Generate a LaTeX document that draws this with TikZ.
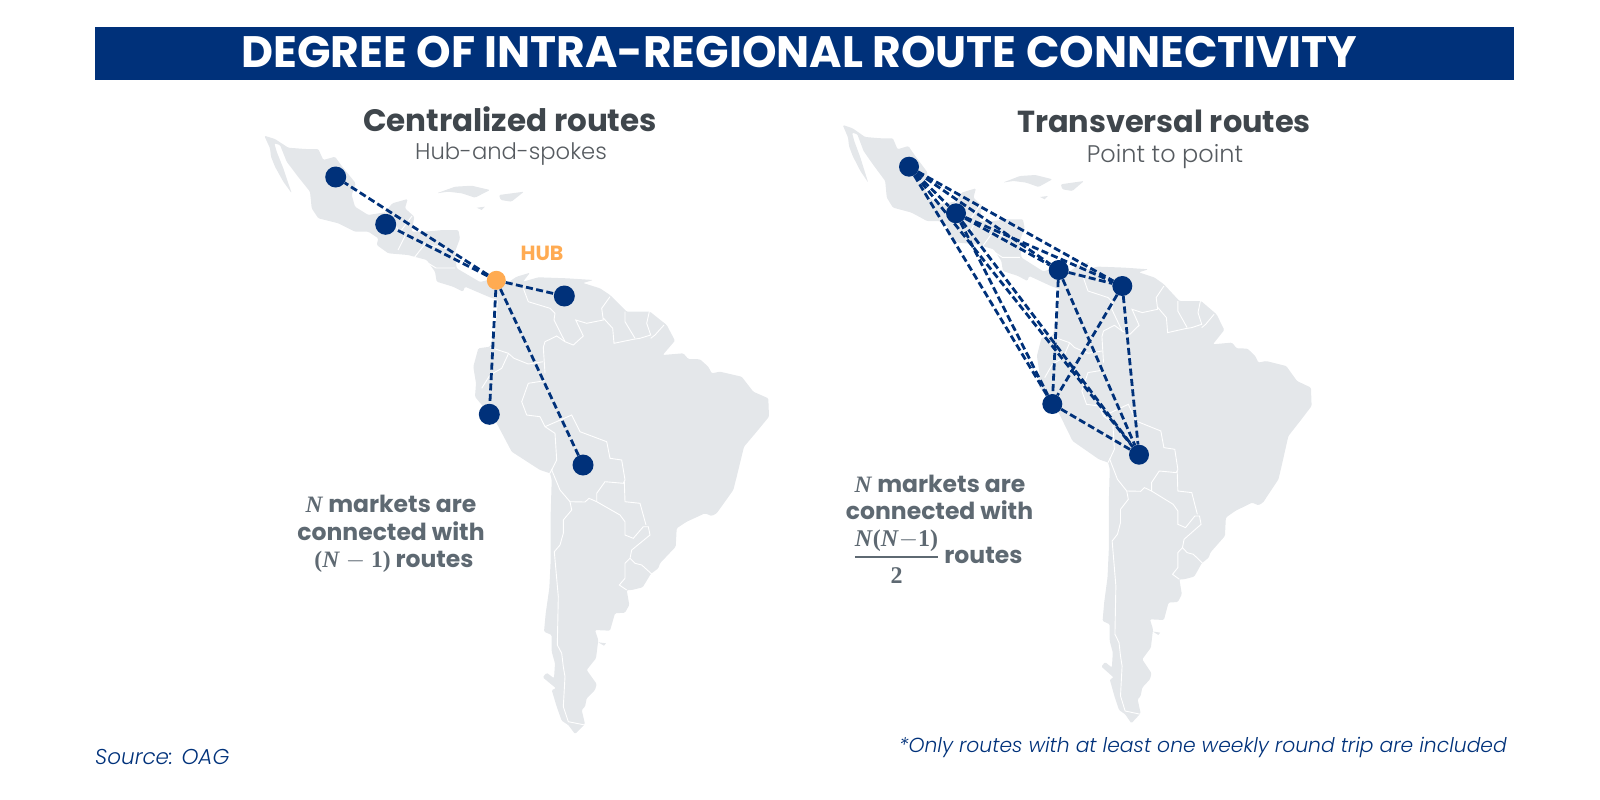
\documentclass[tikz,border=0pt]{standalone}
\usepackage{fontspec}
\setmainfont{Poppins}
\newfontfamily\lightfont{Poppins Light}
\newfontfamily\formulafont{Liberation Serif}
\definecolor{navy}{HTML}{00317A}
\definecolor{land}{HTML}{E4E7EA}
\definecolor{hubcol}{HTML}{FFAB52}
\definecolor{headcol}{HTML}{3F464C}
\definecolor{subcol}{HTML}{565B60}
\definecolor{notecol}{HTML}{5E6972}
\newcommand{\fsize}[1]{\fontsize{#1}{#1}\selectfont}
\newcommand{\lform}[1]{\hbox{\formulafont #1}}
\newcommand{\bform}[1]{\hbox{\formulafont\bfseries #1}}
\tikzset{
    market/.style={circle,fill=navy,minimum size=#1,inner sep=0},
    hubdot/.style={circle,fill=hubcol,minimum size=19pt,inner sep=0},
    route/.style={draw=navy,line width=2.8pt,dash pattern=on 7pt off 3.4pt},
    border/.style={draw=white,line width=.9pt},
    head/.style={font=\fsize{#1}\bfseries,text=headcol,inner sep=0,anchor=base},
    subhead/.style={font=\fsize{#1}\lightfont,text=subcol,inner sep=0,anchor=base},
    note/.style={font=\fsize{#1}\bfseries,text=notecol,inner sep=0,anchor=base},
    foot/.style={font=\fsize{#1}\lightfont\itshape,text=navy,inner sep=0,anchor=base}
}
\newcommand{\drawmap}{
\fill[land,rounded corners=1.2pt] (264.3,135.7) -- (275,139) -- (288.3,147.7) -- (305,149) -- (318.3,149) -- (323.3,160) -- (335,156.7) -- (342.3,166.7) -- (351.7,178.3) -- (355.7,183.3) -- (351.7,195) -- (355,206.7) -- (368.3,215) -- (385,212.3) -- (392.3,203.3) -- (407.7,199) -- (405,208.3) -- (414.3,216.7) -- (411.7,231.7) -- (425,231.7) -- (443,230) -- (458.3,230) -- (460,238.3) -- (455,251.7) -- (456.7,268.3) -- (480,282) -- (488.3,280) -- (506.7,283.3) -- (516.7,276.7) -- (530,272.7) -- (523,281.7) -- (538.3,277.3) -- (566.7,278.3) -- (593.3,280) -- (583,283) -- (600,288.3) -- (610,295) -- (626.7,311.7) -- (650,311.7) -- (666.7,325) -- (675,340.7) -- (662.7,355) -- (683.3,353.3) -- (688.3,359) -- (700,359.3) -- (708.3,366.7) -- (711.7,373.3) -- (720,371.7) -- (741.7,376.7) -- (753.3,391.7) -- (768.3,398.3) -- (769,416.7) -- (756.7,431.7) -- (744,446.7) -- (736.7,476.7) -- (733.3,490) -- (716.7,513.3) -- (711.7,516) -- (705,513.3) -- (686.7,521.7) -- (676.7,528.3) -- (675.7,546.7) -- (660,563.3) -- (658.3,568.3) -- (650.7,574) -- (642.7,587.3) -- (631.7,590) -- (626.7,590) -- (629.3,605) -- (625,612.7) -- (615,613.3) -- (610,630.7) -- (595,630) -- (598.3,640) -- (596,658.3) -- (586.7,670) -- (596.7,684) -- (595,690) -- (586.7,698.3) -- (585,706.7) -- (581.7,710) -- (585,724) -- (575,734) -- (568.3,725) -- (561.7,720.7) -- (556.7,706.7) -- (551.7,690) -- (556,688.3) -- (542.7,677.3) -- (546.7,672.7) -- (554,678.3) -- (555,663.3) -- (551.7,651.7) -- (551.7,635) -- (544,631.7) -- (545.7,613.3) -- (549.3,588.3) -- (550.7,560) -- (550.7,513.3) -- (551.7,480) -- (550,473.3) -- (540,470) -- (511.7,451.7) -- (496.7,423.3) -- (475,396.7) -- (476,383.3) -- (473.3,366.7) -- (478.3,348.3) -- (490,346.7) -- (495,331.7) -- (498,300) -- (488.3,296.7) -- (465,286.7) -- (463,291.7) -- (453,286.7) -- (436.7,281.7) -- (435,271.7) -- (426.7,260) -- (408,255) -- (388.3,253.3) -- (376.7,245) -- (378.3,238.3) -- (368.3,231.7) -- (355,231.7) -- (338.3,223.3) -- (318.3,218.3) -- (311.7,208.3) -- (310,191.7) -- (296.7,175) -- (286.7,161.7) -- (280,145) -- (274.3,143.3) -- (276.7,151.7) -- (283.3,168.3) -- (291.7,193.3) -- (283.3,181.7) -- (275,166.7) -- (271,156.7) -- (270,148.3) -- cycle;
\fill[land,rounded corners=1.2pt] (436.7,193.3) -- (455,186.7) -- (471.7,185.7) -- (490,190) -- (475,197.7) -- (461.7,193.3) -- (448,191.7) -- cycle;
\fill[land,rounded corners=1.2pt] (499,195) -- (524,191.7) -- (511.4,201.7) -- (500.7,200) -- cycle;
\fill[land] (476.7,207.7) -- (485,206.7) -- (481.7,210) -- cycle;
\fill[land] (598.3,642.3) -- (606,643.3) -- (604,645.7) -- cycle;
\draw[border] (523.3,288.3) -- (528.3,301.7) -- (550,308.3) -- (555,313.3) -- (554,320) -- (565,341.7) -- (573.3,345) -- (583.3,336) -- (575.7,320) -- (586.7,323.3) -- (603.3,320) -- (601.7,308.3) -- (610,296.7);
\draw[border] (603.3,318) -- (612.7,328.3) -- (614,343.3) -- (633.3,339.3) -- (640,338.3) -- (650.7,335) -- (646.7,323.3) -- (649.3,311.7);
\draw[border] (625,311.7) -- (625,321.7) -- (635,338.3);
\draw[border] (650.7,338.3) -- (655,335) -- (664,325);
\draw[border] (565,341.7) -- (556.7,336) -- (545,341.7) -- (543.3,347.3) -- (545,373.3);
\draw[border] (490,347.3) -- (508.3,353.3) -- (514,358.3) -- (528.3,364) -- (543.3,361.7);
\draw[border] (508.3,354) -- (501.7,368.3) -- (490,375) -- (481.7,388.3);
\draw[border] (545,380.7) -- (528.3,383.3) -- (521.7,401.7) -- (526.7,415) -- (540,416.7) -- (545,426.7) -- (571.7,415) -- (580,431.7) -- (606.7,441.7) -- (610,458.3) -- (621.7,460) -- (625,480) -- (623.3,483.3) -- (605,481.7) -- (596.7,493.3) -- (596.7,501.7) -- (620,515) -- (625,521.7) -- (625,535) -- (633.3,538.3) -- (643.3,526.7) -- (648.3,526.7) -- (650,535) -- (631.7,550) -- (630,558.3) -- (635,563.3) -- (641.7,565) -- (651.7,574);
\draw[border] (545,426.7) -- (555,433.3) -- (556.7,460) -- (551.7,470) -- (560,490) -- (570,501.7) -- (585,502) -- (589,498.3) -- (596.7,501.7);
\draw[border] (548.9,475) -- (552.5,468.3);
\draw[border] (570,501.7) -- (571.7,510) -- (563.3,520) -- (563.3,533.3) -- (560,545) -- (554.3,551.7) -- (558.3,596.7) -- (557.3,645) -- (561.7,653.3) -- (563.3,666.7) -- (565,676.7) -- (563.3,706.7) -- (568.3,721.7) -- (585,725);
\draw[border] (624.3,481.7) -- (625,501.7) -- (640,503.3) -- (646,525);
\draw[border] (630,558.3) -- (625,563.3) -- (625,578.3) -- (619.3,585) -- (626.7,590);
\draw[border] (385,212.3) -- (400,232) -- (412,216);
\draw[border] (405,236) -- (398,250);
\draw[border] (414,258) -- (425,244) -- (452,250);
\draw[border] (423,260) -- (436,268) -- (455,268);
}

\begin{document}
\begin{tikzpicture}[x=1pt,y=-1pt]
\useasboundingbox (0,0) rectangle (1600,800);
\fill[navy] (95,27.5) rectangle (1514,79.5);
\node[font=\fsize{44}\bfseries,text=white,inner sep=0] at (799.5,52)(title){DEGREE OF INTRA-REGIONAL ROUTE CONNECTIVITY};

\drawmap
\begin{scope}[shift={(597.2,-10.7)},xscale=.929]
\drawmap
\end{scope}

\node[head=31] at (510,131)(headl){Centralized routes};
\node[subhead=22.7] at (511,159.5)(subl){Hub-and-spokes};
\node[head=30.4] at (1164,132.5)(headr){Transversal routes};
\node[subhead=24] at (1165,162)(subr){Point to point};
\node[font=\fsize{20.5}\bfseries,text=hubcol,inner sep=0] at (542,253)(hublabel){HUB};

\node[hubdot] at (496.3,280.3)(hub){};
\foreach \n/\p in {la/{335.7,177},lb/{385.7,224.3},lc/{564.3,296},ld/{489.3,414.3},le/{583,465}}{
    \node[market=21pt] at (\p)(\n){};
    \draw[route] (hub) -- (\n);
}

\foreach \n/\p in {ra/{909,166.7},rb/{956,213.3},rc/{1058.7,270},rd/{1122.3,286},re/{1052.3,404},rf/{1139,454.7}}{
    \node[market=20pt] at (\p)(\n){};
}
\foreach \a/\b in {ra/rb,ra/rc,ra/rd,ra/re,ra/rf,rb/rc,rb/rd,rb/re,rb/rf,rc/rd,rc/re,rc/rf,rd/re,rd/rf,re/rf}{
    \draw[route] (\a) -- (\b);
}

\node[note=23.5] at (391,512.7)(noa){\lform{\textit{N}} markets are};
\node[note=23.5] at (391,540)(nob){connected with};
\node[note=23.5] at (394,567.3)(noc){\lform{(\textit{N} $-$ 1)} routes};
\node[note=23.5] at (940,492.3)(nra){\bform{\textit{N}} markets are};
\node[note=23.5] at (939.5,519.3)(nrb){connected with};
\node[note=23.5] at (938,563.7)(nrc){${\bform{\fsize{24}\rule[-8pt]{0pt}{8pt}\textit{N}(\textit{N}$-$1)}\above 2pt \bform{\fsize{24}\rule{0pt}{23pt}2}}$ routes};

\node[foot=21.5,anchor=base west] at (95,764)(source){Source: OAG};
\node[foot=20.3,anchor=base east] at (1507,752)(only){*Only routes with at least one weekly round trip are included};
\end{tikzpicture}
\end{document}
